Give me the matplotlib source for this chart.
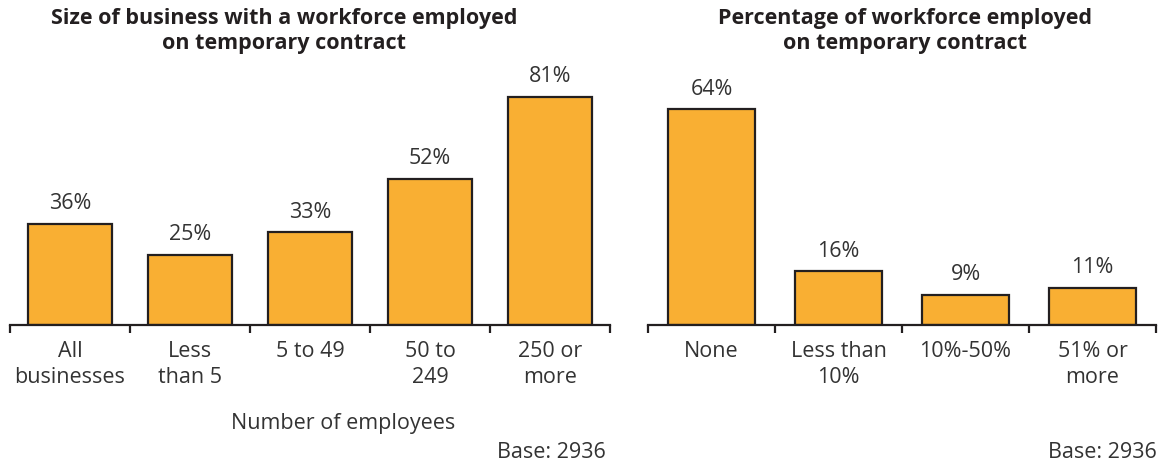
import matplotlib.pyplot as plt
import numpy as np

size_labels = ['All\nbusinesses', 'Less\nthan 5', '5 to 49', '50 to\n249', '250 or\nmore']
size_values = [36, 25, 33, 52, 81]

share_labels = ['None', 'Less than\n10%', '10%-50%', '51% or\nmore']
share_values = [64, 16, 9, 11]

bar_color = '#F9AF33'
ink = '#231F20'
text_color = '#333333'

plt.rcParams['font.family'] = ['Open Sans', 'DejaVu Sans']

W, H = 1173, 463
fig = plt.figure(figsize=(W / 100, H / 100), dpi=100)


def draw_panel(ax, labels, values, ymax, width):
    x = np.arange(len(values))
    ax.bar(x, values, width=width, color=bar_color, edgecolor=ink, linewidth=1.6, zorder=2)
    for xi, v in zip(x, values):
        ax.annotate(f'{v}%', xy=(xi, v), xytext=(0, 20), textcoords='offset pixels',
                    ha='center', va='center', fontsize=15.5, color=text_color)
    ax.set_xlim(-0.5, len(values) - 0.5)
    ax.set_ylim(0, ymax)
    for side in ('top', 'right', 'left'):
        ax.spines[side].set_visible(False)
    ax.spines['bottom'].set_color(ink)
    ax.spines['bottom'].set_linewidth(1.6)
    ax.set_yticks([])
    # boundary ticks between categories
    ax.set_xticks(np.arange(len(values) + 1) - 0.5)
    ax.set_xticklabels([])
    ax.tick_params(axis='x', direction='out', length=6, width=1.6, color=ink)
    for xi, lab in zip(x, labels):
        ax.annotate(lab, xy=(xi, 0), xycoords=('data', 'axes fraction'),
                    xytext=(0, -16), textcoords='offset pixels', ha='center', va='top',
                    fontsize=15.5, color=text_color, linespacing=1.3)


ax1 = fig.add_axes([10 / W, 1 - 325 / H, 600 / W, 265 / H])
draw_panel(ax1, size_labels, size_values, 94.1, 0.7)

ax2 = fig.add_axes([648 / W, 1 - 325 / H, 508 / W, 265 / H])
draw_panel(ax2, share_labels, share_values, 78.6, 0.69)

fig.text(284 / W, 1 - 31 / H, 'Size of business with a workforce employed\non temporary contract',
         ha='center', va='center', fontsize=15.5, fontweight='bold', color=ink, linespacing=1.3)
fig.text(905 / W, 1 - 31 / H, 'Percentage of workforce employed\non temporary contract',
         ha='center', va='center', fontsize=15.5, fontweight='bold', color=ink, linespacing=1.3)

fig.text(343 / W, 1 - 423 / H, 'Number of employees', ha='center', va='center',
         fontsize=15.5, color=text_color)
fig.text(606 / W, 1 - 452 / H, 'Base: 2936', ha='right', va='center',
         fontsize=15.5, color=text_color)
fig.text(1157 / W, 1 - 452 / H, 'Base: 2936', ha='right', va='center',
         fontsize=15.5, color=text_color)

fig.savefig('out.png', dpi=100)
